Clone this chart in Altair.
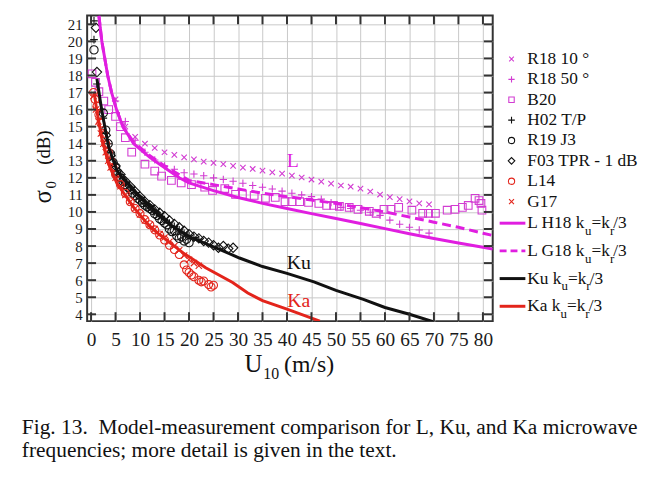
import altair as alt
import pandas as pd

FONT = "Liberation Serif"
W, H = 410, 309

MAG_LINE = "#e01ee0"
MAG_PT = "#d23cd2"
RED = "#e3241b"
BLACK = "#111111"
X_PATH = "M-1,-1L1,1M-1,1L1,-1"
PLUS_PATH = "M-1,0L1,0M0,-1L0,1"

# ---------------- data ----------------
r18_10_x = [5, 7, 9, 11, 13, 15, 17, 19, 21, 23, 25, 27, 29, 31, 33, 35, 37, 39, 41, 43, 45,
            47, 49, 51, 53, 55, 57, 59, 61, 63, 65, 67, 69]
r18_10_y = [16.6, 15.0, 14.4, 14.0, 13.75, 13.5, 13.35, 13.2, 13.08, 12.95, 12.88, 12.8, 12.7,
            12.6, 12.52, 12.42, 12.32, 12.25, 12.13, 12.02, 11.9, 11.78, 11.66, 11.55, 11.48,
            11.37, 11.2, 11.02, 10.87, 10.75, 10.62, 10.5, 10.44]

r18_50_x = [5, 7, 9, 11, 13, 15, 17, 19, 21, 23, 25, 27, 29, 31, 33, 35, 37, 39, 41, 43, 45,
            47, 49, 51, 53, 55, 57, 59, 61, 63, 65, 67, 69]
r18_50_y = [16.5, 15.3, 14.2, 13.5, 13.05, 12.7, 12.5, 12.3, 12.22, 12.12, 12.0, 11.9, 11.8,
            11.68, 11.55, 11.45, 11.35, 11.22, 11.1, 11.0, 10.9, 10.75, 10.55, 10.27, 10.2,
            10.1, 9.98, 9.8, 9.52, 9.28, 9.1, 8.94, 8.76]

b20_x = [0.2, 0.9, 1.6, 2.6, 3.6, 5.0, 6.0, 7.0, 8.3, 11.0, 13.0, 14.4, 16.4, 18.4, 20.5, 23.2,
         24.8, 27.3, 29.5, 30.9, 33.3, 35.6, 37.6, 39.6, 41.0, 42.6, 44.4, 46.5, 48.1, 49.5,
         50.7, 52.7, 54.5, 56.8, 58.2, 59.8, 61.2, 62.8, 65.5, 67.7, 68.9, 70.3, 72.7, 74.3,
         75.8, 77.0, 78.4, 79.2, 79.6, 79.8]
b20_y = [18.1, 17.6, 17.05, 16.5, 16.0, 15.6, 15.0, 14.35, 13.5, 12.8, 12.4, 12.1, 11.85, 11.7,
         11.6, 11.45, 11.26, 11.37, 11.03, 11.03, 10.97, 10.8, 10.85, 10.6, 10.6, 10.6, 10.56,
         10.5, 10.38, 10.38, 10.33, 10.27, 10.15, 10.04, 9.92, 10.15, 10.15, 10.27, 10.1, 9.92,
         9.92, 9.92, 10.1, 10.15, 10.27, 10.38, 10.8, 10.67, 10.5, 10.1]

h02_x = [0.6, 0.6, 1.2, 2.0, 2.5, 3.0, 3.5, 4.0, 5.0, 6.0, 7.0, 8.0, 9.0, 10.0, 11.0, 12.0,
         13.0, 14.0, 15.0, 16.0, 17.0, 18.0, 19.0, 20.0, 21.0, 22.0]
h02_y = [21.2, 20.1, 17.5, 16.0, 15.5, 14.6, 14.0, 13.5, 12.8, 12.2, 11.7, 11.4, 11.1, 10.8,
         10.5, 10.3, 10.0, 9.8, 9.55, 9.35, 9.15, 8.95, 8.75, 8.6, 8.5, 8.4]

r19_x = [0.6, 2.5, 3.0, 3.5, 4.0, 4.5, 5.0, 5.5, 6.0, 6.5, 7.0, 7.5, 8.0, 8.5, 9.0, 9.5, 10.0,
         10.5, 11.0, 11.5, 12.0, 12.5, 13.0, 13.5, 14.0, 14.5, 15.0, 15.5, 16.0, 16.5, 17.0,
         17.5, 18.0, 18.5, 19.0, 19.5, 20.0]
r19_y = [19.5, 15.8, 14.8, 14.0, 13.4, 12.9, 12.6, 12.3, 12.0, 11.8, 11.6, 11.45, 11.3, 11.1,
         10.95, 10.8, 10.7, 10.55, 10.4, 10.3, 10.2, 10.1, 9.9, 9.8, 9.6, 9.5, 9.35, 9.25, 9.0,
         8.85, 8.9, 8.6, 8.45, 8.55, 8.3, 8.4, 8.2]

f03_x = [1.0, 1.2, 3, 4, 5, 6, 7, 8, 9, 10, 11, 12, 13, 14, 15, 16, 17, 18, 19, 20, 21, 22,
         23, 24, 25, 26, 27, 28, 29]
f03_y = [20.8, 18.2, 14.5, 13.3, 12.7, 12.2, 11.8, 11.5, 11.2, 10.9, 10.6, 10.4, 10.15, 9.95,
         9.75, 9.5, 9.3, 9.1, 8.9, 8.7, 8.55, 8.45, 8.3, 8.2, 8.05, 7.9, 8.0, 7.85, 7.9]

l14_x = [0.5, 0.8, 1.2, 1.6, 2.0, 2.5, 3.0, 3.5, 4.0, 4.5, 5.0, 6.0, 7.0, 8.0, 9.0, 10.0, 11.0,
         12.0, 13.0, 14.0, 15.0, 16.0, 17.0, 18.0, 19.0, 19.5, 20.0, 20.5, 21.0, 22.0, 22.5,
         23.0, 24.0, 24.5, 25.0]
l14_y = [17.0, 16.6, 16.2, 15.7, 15.2, 14.6, 14.0, 13.5, 13.0, 12.6, 12.2, 11.6, 11.1, 10.6,
         10.2, 9.9, 9.55, 9.25, 8.95, 8.65, 8.35, 8.05, 7.8, 7.5, 6.9, 6.6, 6.45, 6.3, 6.2, 6.0,
         5.9, 5.95, 5.75, 5.6, 5.7]

g17_x = [0.5, 1.0, 1.5, 2.0, 2.5, 3.0, 3.5, 4.0, 5.0, 6.0, 7.0, 8.0, 9.0, 10.0, 11.0, 12.0,
         13.0, 14.0, 15.0, 16.0, 17.0, 18.0, 19.0, 20.0, 21.0, 22.0]
g17_y = [16.8, 16.0, 15.3, 14.6, 14.0, 13.5, 13.0, 12.6, 12.0, 11.5, 11.0, 10.6, 10.2, 9.85,
         9.5, 9.25, 9.0, 8.7, 8.5, 8.25, 8.0, 7.75, 7.45, 7.2, 7.0, 6.85]

lh18_x = [1.6, 2.2, 3.4, 4.2, 5.2, 6.5, 8.7, 12, 14, 18, 20, 25, 30, 35, 40, 45, 50, 55, 60,
          65, 70, 75, 80, 82]
lh18_y = [21.5, 20.0, 18.0, 17.0, 16.0, 15.0, 14.0, 13.2, 12.8, 12.0, 11.7, 11.25, 10.85, 10.5,
          10.2, 9.9, 9.62, 9.32, 9.02, 8.72, 8.44, 8.18, 7.93, 7.82]

lg18_x = [1.6, 2.2, 3.4, 4.2, 5.2, 6.5, 8.7, 12, 15, 20, 25, 30, 35, 40, 45, 50, 55, 60, 65,
          70, 75, 80, 82]
lg18_y = [21.5, 20.0, 18.0, 17.0, 16.0, 15.0, 14.1, 13.3, 12.7, 11.85, 11.6, 11.35, 11.1, 10.9,
          10.7, 10.5, 10.25, 10.0, 9.7, 9.4, 9.1, 8.75, 8.62]

ku_x = [1.2, 2.0, 2.6, 3.6, 5.3, 8.7, 12.1, 15.4, 20.2, 25.5, 30.3, 35, 40, 45.5, 50, 55.6, 60,
        65, 70]
ku_y = [17.8, 16.3, 15.3, 13.8, 12.4, 11.25, 10.3, 9.4, 8.53, 7.9, 7.3, 6.8, 6.4, 5.9, 5.4,
        4.87, 4.4, 4.0, 3.55]

ka_x = [0.6, 1.2, 2.2, 3.6, 5.3, 8.7, 12.1, 15.4, 18.8, 23.4, 28.9, 32, 35, 40, 46.7]
ka_y = [17.05, 15.9, 14.3, 12.8, 11.66, 10.27, 9.1, 8.35, 7.6, 6.73, 5.86, 5.25, 4.8, 4.3, 3.6]

x_ticks = list(range(0, 81, 5))
y_ticks = list(range(4, 22))

legend_marks = ["R18 10 °", "R18 50 °", "B20", "H02 T/P", "R19 J3", "F03 TPR - 1 dB", "L14", "G17"]
legend_lines = ["L H18 k", "L G18 k", "Ku k", "Ka k"]
annotations = ["L", "Ku", "Ka"]
ann_x = [41.2, 42.4, 42.4]
ann_y = [13.0, 7.0, 4.75]
caption1 = "Fig. 13.\u00a0 Model-measurement comparison for L, Ku, and Ka microwave"
caption2 = "frequencies; more detail is given in the text."

# ---------------- chart ----------------
xs = alt.Scale(domain=[-0.8, 82.0], nice=False, zero=False)
ys = alt.Scale(domain=[3.6, 21.52], nice=False, zero=False)
ONE = pd.DataFrame({"a": [0]})

axis_common = dict(grid=True, gridColor="#c8c8c8", gridWidth=1, ticks=False, domain=False,
                   labelFont=FONT, labelColor="#1a1a1a", title=None,
                   labelOverlap=False, labelFlush=False, labelBound=False)
AX_X = alt.Axis(values=x_ticks, labelPadding=10, labelFontSize=19.5, **axis_common)
AX_Y = alt.Axis(values=y_ticks, labelPadding=5, labelFontSize=15, **axis_common)


def X(field="x"):
    return alt.X(f"{field}:Q", scale=xs, axis=AX_X)


def Y(field="y"):
    return alt.Y(f"{field}:Q", scale=ys, axis=AX_Y)


def pts(xv, yv, shape, color, size, sw=1.1):
    df = pd.DataFrame({"x": xv, "y": yv})
    return alt.Chart(df).mark_point(shape=shape, color=color, size=size, filled=False,
                                    strokeWidth=sw, opacity=1, clip=True).encode(x=X(), y=Y())


def line(xv, yv, color, dash=None):
    df = pd.DataFrame({"x": xv, "y": yv})
    kw = dict(color=color, strokeWidth=3, clip=True)
    if dash:
        kw["strokeDash"] = dash
    return alt.Chart(df).mark_line(**kw).encode(x=X(), y=Y())


def txt(s, x, y, size, color=BLACK, angle=0, align="left", baseline="alphabetic"):
    return alt.Chart(ONE).mark_text(text=s, font=FONT, fontSize=size, color=color, align=align,
                                    baseline=baseline, angle=angle).encode(
        x=alt.value(x), y=alt.value(y))


xt = pd.DataFrame({"x": x_ticks})
yt = pd.DataFrame({"y": y_ticks})
TK = 9
tick_kw = dict(color="#333333", strokeWidth=2)
ticks = [
    alt.Chart(xt).mark_rule(**tick_kw).encode(x=X(), y=alt.value(0), y2=alt.value(TK)),
    alt.Chart(xt).mark_rule(**tick_kw).encode(x=X(), y=alt.value(H - TK), y2=alt.value(H)),
    alt.Chart(yt).mark_rule(**tick_kw).encode(y=Y(), x=alt.value(0), x2=alt.value(TK)),
    alt.Chart(yt).mark_rule(**tick_kw).encode(y=Y(), x=alt.value(W - TK), x2=alt.value(W)),
]

data_layers = [
    pts(r18_10_x, r18_10_y, X_PATH, MAG_PT, 30),
    pts(r18_50_x, r18_50_y, PLUS_PATH, MAG_PT, 55),
    pts(b20_x, b20_y, "square", MAG_PT, 60),
    pts(h02_x, h02_y, PLUS_PATH, BLACK, 60),
    pts(r19_x, r19_y, "circle", BLACK, 70),
    pts(f03_x, f03_y, "diamond", BLACK, 90),
    pts(l14_x, l14_y, "circle", RED, 65),
    pts(g17_x, g17_y, X_PATH, RED, 40),
    line(lh18_x, lh18_y, MAG_LINE),
    line(lg18_x, lg18_y, MAG_LINE, dash=[9, 5]),
    line(ku_x, ku_y, BLACK),
    line(ka_x, ka_y, RED),
]

ann_colors = [MAG_LINE, BLACK, RED]
ann_layers = []
for s, ax_, ay_, c in zip(annotations, ann_x, ann_y, ann_colors):
    ann_layers.append(alt.Chart(pd.DataFrame({"x": [ax_], "y": [ay_]})).mark_text(
        text=s, font=FONT, fontSize=20, color=c, baseline="middle", align="center").encode(
        x=X(), y=Y()))

# axis titles with subscripts
titles = [
    txt("U", 159, 360, 25),
    txt("10", 178, 368, 16),
    txt("(m/s)", 199, 360, 24),
    txt("σ", -37, 190, 25, angle=270),
    txt("0", -31, 175, 15, angle=270),
    txt("(dB)", -38, 151, 19, angle=270),
]

# legend
LEG_SYM_X, LEG_TXT_X = 429, 445
leg_shapes = [X_PATH, PLUS_PATH, "square", PLUS_PATH, "circle", "diamond", "circle", X_PATH]
leg_colors = [MAG_PT, MAG_PT, MAG_PT, BLACK, BLACK, BLACK, RED, RED]
leg_sizes = [22, 40, 30, 45, 40, 45, 40, 25]
legend = []
for i, (lab, shp, col, sz) in enumerate(zip(legend_marks, leg_shapes, leg_colors, leg_sizes)):
    yy = 44 + i * 20.6
    legend.append(alt.Chart(ONE).mark_point(shape=shp, color=col, size=sz, filled=False,
                                            strokeWidth=1.1, opacity=1).encode(
        x=alt.value(LEG_SYM_X), y=alt.value(yy)))
    legend.append(txt(lab, LEG_TXT_X, yy, 17.5, baseline="middle"))

TW = {' ': 250, 'L': 611, 'H': 722, 'G': 722, 'K': 722, 'u': 500, 'a': 444, 'k': 500,
      '1': 500, '8': 500, '=': 564, 'r': 333, '/': 278, '3': 500}


def tw(s, size):
    return sum(TW.get(ch, 500) for ch in s) * size / 1000.0


line_colors = [MAG_LINE, MAG_LINE, BLACK, RED]
line_dash = [None, [7, 4], None, None]
MAIN, SUB = 17.5, 13
for i, (pre, col, dash) in enumerate(zip(legend_lines, line_colors, line_dash)):
    ly = 210 + i * 28
    kw = dict(color=col, strokeWidth=3)
    if dash:
        kw["strokeDash"] = dash
    legend.append(alt.Chart(ONE).mark_rule(**kw).encode(
        x=alt.value(417), x2=alt.value(443), y=alt.value(ly)))
    base = ly + 5
    x0 = LEG_TXT_X
    legend.append(txt(pre, x0, base, MAIN))
    x0 += tw(pre, MAIN)
    legend.append(txt("u", x0, base + 7, SUB))
    x0 += tw("u", SUB)
    legend.append(txt("=k", x0, base, MAIN))
    x0 += tw("=k", MAIN)
    legend.append(txt("r", x0, base + 7, SUB))
    x0 += tw("r", SUB) - 1
    legend.append(txt("/3", x0, base, MAIN))

caption = [
    txt(caption1, -66, 423, 21.6),
    txt(caption2, -66, 446, 21.6),
]

chart = alt.layer(*data_layers, *ticks, *ann_layers, *titles, *legend,
                  *caption).properties(
    width=W, height=H,
    padding={"left": 80, "top": 5, "right": 160, "bottom": 150},
    autosize=alt.AutoSizeParams(type="none"),
    background="white",
).configure_view(stroke="#333333", strokeWidth=2)

chart.save("out.html", embed_options={"renderer": "svg", "actions": False})
